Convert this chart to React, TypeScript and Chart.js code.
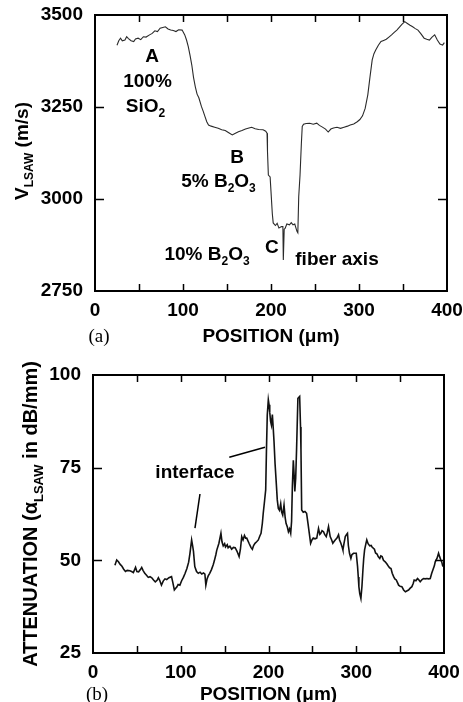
import React, { useEffect, useRef } from "react";
import { Chart, registerables } from "chart.js";

Chart.register(...registerables);

const FONT = '"Liberation Sans", Arial, Helvetica, sans-serif';

// ---------- Panel (a): LSAW velocity profile ----------
const positionA = [
  25, 27, 29, 31, 34, 36, 38, 41, 44, 46, 49, 52, 55, 58, 62, 65, 68, 71, 74, 77,
  80, 83, 86, 89, 92, 95, 99, 102, 104, 106, 108, 110, 112, 114, 116, 118, 121, 123, 125, 127,
  129, 132, 136, 140, 144, 148, 152, 156, 159, 163, 167, 171, 175, 178, 182, 186, 191, 194, 195.5, 196,
  197, 199, 200, 201.5, 202.5, 205, 207, 209, 212, 213.5, 214, 215, 216, 218, 221, 223, 225, 227, 229.5, 230.5,
  231.5, 233, 234.5, 235.5, 237, 240, 244, 248, 252, 255, 258, 262, 265, 268, 271, 275, 279, 283, 287, 290,
  294, 298, 301, 304, 307, 310, 312.5, 315, 317, 319, 322, 325, 328, 331, 334, 337, 340, 343, 346, 349,
  352, 355, 358, 361, 364, 367, 370, 374, 377, 380, 383, 386, 389, 392, 395, 397,
];
const velocityA = [
  3418, 3430, 3437, 3430, 3432, 3441, 3436, 3430, 3428, 3435, 3437, 3433, 3441, 3440, 3446, 3450, 3457, 3455, 3464, 3466,
  3468, 3462, 3459, 3458, 3455, 3460, 3459, 3446, 3432, 3414, 3390, 3364, 3330, 3305, 3285, 3275, 3251, 3238, 3224, 3210,
  3201, 3198, 3195, 3192, 3188, 3186, 3180, 3174, 3178, 3183, 3186, 3190, 3193, 3195, 3191, 3189, 3188, 3184, 3179, 3130,
  3065, 3060, 3020, 2960, 2935, 2928, 2934, 2921, 2925, 2925, 2834, 2918, 2920, 2932, 2930, 2936, 2930, 2932, 2912, 2908,
  3006, 3065, 3150, 3197, 3203, 3205, 3206, 3203, 3206, 3200, 3196, 3190, 3182, 3190, 3193, 3195, 3192, 3195, 3198, 3201,
  3204, 3210, 3216, 3226, 3246, 3283, 3332, 3378, 3395, 3405, 3418, 3428, 3431, 3434, 3440, 3446, 3453, 3459, 3467, 3475,
  3482, 3477, 3472, 3468, 3463, 3459, 3450, 3437, 3434, 3432, 3440, 3446, 3432, 3421, 3418, 3425,
];

// ---------- Panel (b): attenuation profile ----------
const positionB = [
  25, 27, 29, 31, 33, 35, 37, 39, 42, 44, 46, 48.5, 50, 52, 54, 55.5, 57, 59, 61, 63,
  65, 67, 69, 71, 73, 74.5, 76, 78, 80, 82, 84, 86.5, 89.5, 91, 92.7, 94, 95.5, 97, 99, 101,
  103, 105, 107, 109, 110.5, 112.4, 113.5, 114.5, 116, 118, 120, 122, 124, 126, 127.5, 128.6, 130, 131.3, 133, 135,
  137, 138.2, 140, 141, 143.5, 145.8, 147, 148.4, 150, 151, 153, 154, 156, 158, 160, 162, 164, 166.5, 168, 169.5,
  171, 172.6, 174, 175.2, 177.8, 180, 181.6, 183, 184.6, 186.5, 188.4, 190, 191.5, 193, 194, 195.5, 196.8, 197.7, 198.6, 199.8,
  200.6, 201.4, 202.4, 203.3, 204.4, 205.3, 206.3, 207.5, 209, 210, 211.2, 212.5, 213.9, 215, 216.2, 217.7, 219, 220, 221.5, 222.7,
  224, 225.3, 226.3, 227.2, 228.3, 229.2, 230, 231, 232, 233.5, 235.5, 236.5, 237, 237.8, 239.6, 241.5, 243.4, 245, 246.5, 248,
  249.5, 251, 253, 255, 257, 258.5, 259.6, 261, 262.7, 264, 265.8, 267, 268.4, 270.3, 272, 273.3, 274.5, 276, 278, 279.8,
  281, 282.5, 284, 284.8, 286, 287.5, 289, 290, 291, 292.3, 293.9, 295, 296.9, 298.5, 300, 301.5, 302.3, 303, 304, 305.3,
  306.5, 307.6, 308.5, 309.5, 311, 312, 313.5, 315.4, 317, 318, 320.7, 322, 323.7, 325, 326.8, 328, 329.5, 331, 333, 335,
  336.9, 338, 339.6, 341, 342.6, 344, 345.6, 347, 348.3, 350, 352, 354, 356, 358, 359.6, 361.5, 363.4, 365, 366, 368,
  369.8, 371, 372.9, 375, 376.7, 378.5, 380.5, 382.5, 384.3, 386, 387.3, 389, 390, 392, 393.8, 395, 396.4, 397.5, 398.7,
];
const attenuationB = [
  48.7, 50.1, 49.6, 48.9, 48.4, 47.6, 47.0, 47.3, 47.2, 47.0, 46.7, 48.1, 47.0, 46.9, 47.5, 48.1, 47.3, 46.5, 46.0, 45.4,
  45.6, 45.3, 44.7, 44.2, 44.6, 45.3, 44.6, 43.3, 44.4, 45.0, 44.8, 45.3, 45.6, 44.0, 42.0, 42.4, 42.8, 43.5, 43.3, 44.5,
  45.4, 46.5, 47.8, 49.5, 51.9, 55.5, 54.0, 52.4, 48.3, 47.0, 46.5, 46.8, 46.3, 46.6, 46.3, 43.3, 45.0, 45.8, 46.5, 47.5,
  48.8, 49.8, 51.5, 52.7, 54.6, 57.3, 55.0, 53.9, 54.5, 53.6, 54.2, 53.4, 53.8, 53.0, 53.5, 53.4, 52.5, 51.0, 53.0, 56.4,
  55.5, 56.7, 56.0, 56.0, 54.6, 53.5, 53.0, 54.0, 54.6, 55.0, 55.5, 56.5, 57.3, 60.0, 62.7, 66.0, 69.0, 80.0, 89.2, 93.3,
  92.0, 90.0, 87.5, 86.5, 89.3, 86.0, 82.0, 76.0, 70.3, 66.3, 64.0, 63.5, 65.3, 63.0, 62.2, 64.9, 61.5, 60.0, 59.0, 57.7,
  58.5, 57.3, 60.5, 70.0, 77.0, 73.0, 68.6, 72.2, 80.0, 93.7, 94.2, 86.0, 79.8, 63.6, 63.0, 63.2, 62.7, 60.0, 57.3, 54.6,
  55.5, 56.0, 55.8, 56.0, 58.6, 57.0, 57.3, 58.0, 57.7, 57.0, 56.4, 57.5, 59.1, 56.4, 55.5, 54.6, 55.0, 55.5, 56.0, 56.9,
  55.5, 54.6, 53.5, 52.8, 54.5, 56.4, 57.0, 57.3, 54.0, 51.9, 50.5, 51.5, 51.9, 51.9, 51.9, 48.3, 45.5, 42.9, 41.0, 39.7,
  43.0, 47.4, 50.5, 52.8, 54.5, 55.5, 54.5, 53.9, 54.0, 53.6, 53.0, 52.0, 51.7, 51.0, 50.5, 51.2, 51.0, 50.0, 49.6, 49.0,
  48.3, 48.0, 47.8, 46.5, 45.6, 45.0, 44.7, 44.0, 43.3, 43.0, 42.9, 42.0, 41.5, 41.8, 42.0, 42.5, 42.9, 43.8, 44.7, 44.5,
  45.1, 44.8, 44.2, 44.8, 45.1, 45.0, 45.1, 45.0, 45.1, 46.5, 47.4, 48.5, 49.6, 50.5, 51.9, 51.0, 50.1, 49.5, 48.3,
];

// ---------- Tick labels ----------
const positionTickLabels = [0, 100, 200, 300, 400];
const velocityTickLabels = [2750, 3000, 3250, 3500];
const attenuationTickLabels = [25, 50, 75, 100];

type Seg = { t: string; sub?: boolean };
type Note = { segs: Seg[]; x: number; y: number };
type Leader = { x1: number; y1: number; x2: number; y2: number };

const notesA: Note[] = [
  { segs: [{ t: "A" }], x: 64.8, y: 3373 },
  { segs: [{ t: "100%" }], x: 59.7, y: 3305 },
  { segs: [{ t: "SiO" }, { t: "2", sub: true }], x: 57.4, y: 3237 },
  { segs: [{ t: "B" }], x: 161.4, y: 3097 },
  { segs: [{ t: "5% B" }, { t: "2", sub: true }, { t: "O" }, { t: "3", sub: true }], x: 140.3, y: 3033 },
  { segs: [{ t: "10% B" }, { t: "2", sub: true }, { t: "O" }, { t: "3", sub: true }], x: 127.3, y: 2834 },
  { segs: [{ t: "C" }], x: 201, y: 2853 },
  { segs: [{ t: "fiber axis" }], x: 275, y: 2821 },
];
const notesB: Note[] = [{ segs: [{ t: "interface" }], x: 116.2, y: 72.1 }];
const leadersB: Leader[] = [
  { x1: 121.9, y1: 67.9, x2: 116.2, y2: 58.7 },
  { x1: 155.3, y1: 77.8, x2: 196, y2: 80.5 },
];

function drawRich(ctx: CanvasRenderingContext2D, segs: Seg[], x: number, y: number, size: number) {
  const main = `bold ${size}px ${FONT}`;
  const sub = `bold ${Math.round(size * 0.65)}px ${FONT}`;
  let w = 0;
  segs.forEach((s) => {
    ctx.font = s.sub ? sub : main;
    w += ctx.measureText(s.t).width;
  });
  let cx = x - w / 2;
  ctx.textAlign = "left";
  ctx.textBaseline = "alphabetic";
  segs.forEach((s) => {
    ctx.font = s.sub ? sub : main;
    ctx.fillText(s.t, cx, y + (s.sub ? size * 0.28 : 0));
    cx += ctx.measureText(s.t).width;
  });
}

type DecorCfg = {
  notes: Note[];
  leaders: Leader[];
  yTitle: Seg[];
  yTitleSize: number;
  yTitleX: number; // baseline x (screen)
  yTitleY: number; // centre y
  xTitleBaseline: number;
  panel: string;
  panelX: number;
};

function makeDecor(cfg: DecorCfg) {
  return {
    id: "decor",
    afterDraw(chart: any) {
      const { ctx, chartArea: a, scales } = chart;
      const x = scales.x;
      const y = scales.y;
      ctx.save();
      ctx.strokeStyle = "#000";
      ctx.fillStyle = "#000";
      // inward ticks
      ctx.lineWidth = 1.5;
      ctx.beginPath();
      x.ticks.forEach((t: any) => {
        const px = Math.round(x.getPixelForValue(t.value)) + 0.5;
        if (px <= a.left + 2 || px >= a.right - 2) return;
        ctx.moveTo(px, a.bottom);
        ctx.lineTo(px, a.bottom - 7);
        ctx.moveTo(px, a.top);
        ctx.lineTo(px, a.top + 7);
      });
      y.ticks.forEach((t: any) => {
        const py = Math.round(y.getPixelForValue(t.value)) + 0.5;
        if (py <= a.top + 2 || py >= a.bottom - 2) return;
        ctx.moveTo(a.left, py);
        ctx.lineTo(a.left + 9, py);
        ctx.moveTo(a.right, py);
        ctx.lineTo(a.right - 9, py);
      });
      ctx.stroke();
      // frame
      ctx.lineWidth = 2;
      ctx.strokeRect(a.left, a.top, a.right - a.left, a.bottom - a.top);
      // leader lines
      ctx.lineWidth = 1.5;
      cfg.leaders.forEach((l) => {
        ctx.beginPath();
        ctx.moveTo(x.getPixelForValue(l.x1), y.getPixelForValue(l.y1));
        ctx.lineTo(x.getPixelForValue(l.x2), y.getPixelForValue(l.y2));
        ctx.stroke();
      });
      // annotations
      cfg.notes.forEach((n) => {
        drawRich(ctx, n.segs, x.getPixelForValue(n.x), y.getPixelForValue(n.y), 19);
      });
      // x title
      ctx.font = `bold 19px ${FONT}`;
      ctx.textAlign = "center";
      ctx.textBaseline = "alphabetic";
      ctx.fillText("POSITION (\u03bcm)", (a.left + a.right) / 2, cfg.xTitleBaseline);
      // panel label
      ctx.font = `19px "Liberation Serif", "Times New Roman", serif`;
      ctx.fillText(cfg.panel, cfg.panelX, cfg.xTitleBaseline);
      // y title (rotated)
      ctx.translate(cfg.yTitleX, cfg.yTitleY);
      ctx.rotate(-Math.PI / 2);
      drawRich(ctx, cfg.yTitle, 0, 0, cfg.yTitleSize);
      ctx.restore();
    },
  };
}

function tickFont() {
  return { family: FONT, size: 19, weight: "bold" as const };
}

function makeChart(
  canvas: HTMLCanvasElement,
  xs: number[],
  ys: number[],
  yMin: number,
  yMax: number,
  yStep: number,
  yLabels: number[],
  lineWidth: number,
  lineColor: string,
  pad: { right: number; top: number },
  yWidth: number,
  xHeight: number,
  decor: DecorCfg
) {
  return new Chart(canvas, {
    type: "line",
    data: {
      datasets: [
        {
          data: xs.map((p, i) => ({ x: p, y: ys[i] })),
          borderColor: lineColor,
          borderWidth: lineWidth,
          pointRadius: 0,
          tension: 0,
          fill: false,
        },
      ],
    },
    options: {
      responsive: false,
      animation: false,
      events: [],
      layout: { padding: { left: 0, right: pad.right, top: pad.top, bottom: 0 } },
      plugins: { legend: { display: false }, tooltip: { enabled: false } },
      scales: {
        x: {
          type: "linear",
          min: 0,
          max: 400,
          grid: { display: false, drawTicks: false },
          border: { display: false },
          ticks: {
            stepSize: 50,
            autoSkip: false,
            maxRotation: 0,
            padding: 8,
            color: "#000",
            font: tickFont(),
            callback: (v: any) => (positionTickLabels.includes(Number(v)) ? String(v) : ""),
          },
          afterFit: (s: any) => {
            s.height = xHeight;
            s.paddingLeft = 0;
            s.paddingRight = 0;
          },
        },
        y: {
          type: "linear",
          min: yMin,
          max: yMax,
          grid: { display: false, drawTicks: false },
          border: { display: false },
          ticks: {
            stepSize: yStep,
            autoSkip: false,
            padding: 12,
            color: "#000",
            font: tickFont(),
            callback: (v: any) => (yLabels.includes(Number(v)) ? String(v) : ""),
          },
          afterFit: (s: any) => {
            s.width = yWidth;
            s.paddingTop = 0;
            s.paddingBottom = 0;
          },
        },
      },
    },
    plugins: [makeDecor(decor) as any],
  });
}

export default function App() {
  const refA = useRef<HTMLCanvasElement>(null);
  const refB = useRef<HTMLCanvasElement>(null);

  useEffect(() => {
    const a = makeChart(
      refA.current!,
      positionA,
      velocityA,
      2750,
      3500,
      250,
      velocityTickLabels,
      1.1,
      "#2a2a2a",
      { right: 16, top: 15 },
      95,
      59,
      {
        notes: notesA,
        leaders: [],
        yTitle: [{ t: "V" }, { t: "LSAW", sub: true }, { t: " (m/s)" }],
        yTitleSize: 19,
        yTitleX: 28,
        yTitleY: 151,
        xTitleBaseline: 342,
        panel: "(a)",
        panelX: 99,
      }
    );
    const b = makeChart(
      refB.current!,
      positionB,
      attenuationB,
      25,
      100,
      25,
      attenuationTickLabels,
      1.6,
      "#111",
      { right: 19, top: 25 },
      93,
      49,
      {
        notes: notesB,
        leaders: leadersB,
        yTitle: [{ t: "ATTENUATION (\u03b1" }, { t: "LSAW", sub: true }, { t: " in dB/mm)" }],
        yTitleSize: 20,
        yTitleX: 37,
        yTitleY: 164,
        xTitleBaseline: 350,
        panel: "(b)",
        panelX: 97,
      }
    );
    return () => {
      a.destroy();
      b.destroy();
    };
  }, []);

  return (
    <div style={{ position: "absolute", left: 0, top: 0, width: 463, height: 702, background: "#fff" }}>
      <canvas ref={refA} width={463} height={350} style={{ display: "block", width: 463, height: 350 }} />
      <canvas ref={refB} width={463} height={352} style={{ display: "block", width: 463, height: 352 }} />
    </div>
  );
}
